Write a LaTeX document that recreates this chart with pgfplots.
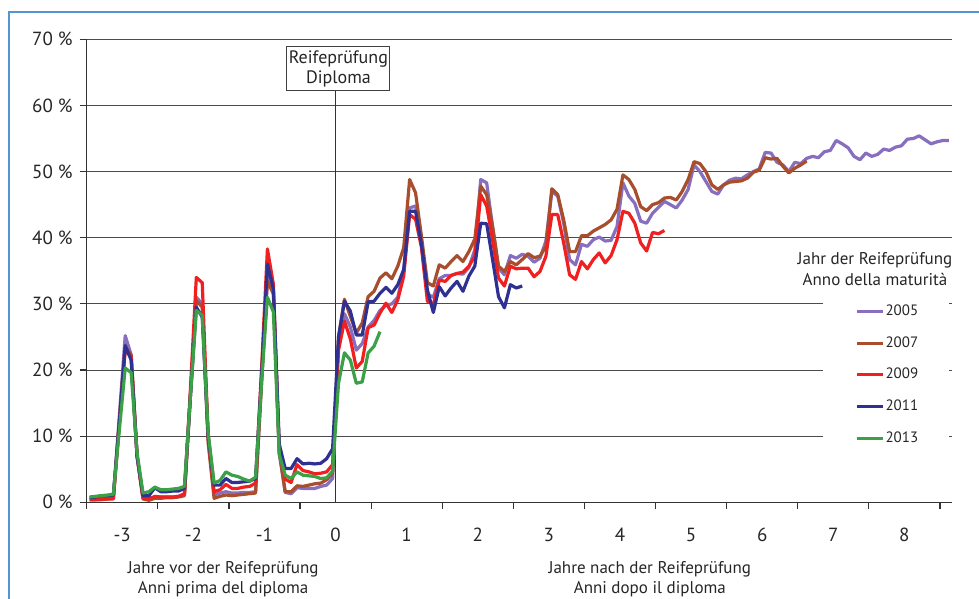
\documentclass[border=0pt]{standalone}
\usepackage{pgfplots}
\pgfplotsset{compat=1.18}
\usepackage{pgfplotstable}
\usepackage{fontspec}
\setmainfont{PT Sans}
\definecolor{cA}{RGB}{135,110,190}
\definecolor{cB}{RGB}{168,78,45}
\definecolor{cC}{RGB}{240,32,32}
\definecolor{cD}{RGB}{46,49,146}
\definecolor{cE}{RGB}{60,160,70}
\definecolor{frm}{RGB}{85,150,210}

% month index m (0 = month of the diploma), value in percent
\pgfplotstableread{
m v
-42 0.6
-41 0.6
-40 0.6
-39 0.7
-38 0.7
-37 13
-36 25.2
-35 22.3
-34 7.0
-33 0.8
-32 0.7
-31 0.7
-30 0.8
-29 0.8
-28 0.8
-27 0.9
-26 1.1
-25 16
-24 31
-23 30
-22 9.5
-21 1.1
-20 1.4
-19 1.6
-18 1.4
-17 1.4
-16 1.5
-15 1.5
-14 1.6
-13 18
-12 34
-11 32
-10 7.5
-9 1.5
-8 1.3
-7 2.2
-6 2.1
-5 2.1
-4 2.1
-3 2.4
-2 2.6
-1 3.6
0 24
1 28.5
2 26.5
3 23
4 24
5 26.5
6 27.5
7 29
8 29.8
9 30
10 31
11 35
12 44.5
13 44.8
14 39
15 31.5
16 31
17 33.8
18 34.3
19 34.3
20 34.6
21 34.5
22 35.5
23 38.2
24 48.8
25 48.3
26 41.7
27 35.4
28 34.4
29 37.3
30 36.9
31 37.5
32 37.2
33 36.3
34 36.9
35 39.5
36 47.0
37 46.3
38 42.2
39 36.7
40 35.9
41 39.0
42 38.7
43 39.7
44 40.1
45 39.5
46 39.6
47 41.7
48 48.3
49 46.3
50 45.2
51 42.5
52 42.2
53 43.7
54 44.6
55 45.5
56 45.0
57 44.5
58 45.7
59 47.3
60 51.0
61 50.0
62 48.5
63 47.0
64 46.6
65 48.0
66 48.7
67 49.0
68 48.9
69 49.5
70 50.0
71 50.4
72 52.9
73 52.8
74 51.4
75 51.0
76 50.0
77 51.4
78 51.2
79 52.0
80 52.3
81 52.1
82 53.0
83 53.2
84 54.7
85 54.2
86 53.6
87 52.3
88 51.8
89 52.8
90 52.3
91 52.6
92 53.4
93 53.2
94 53.7
95 53.9
96 54.9
97 55.0
98 55.4
99 54.8
100 54.2
101 54.5
102 54.7
103 54.7
}\tA

\pgfplotstableread{
m v
-42 0.4
-41 0.4
-40 0.4
-39 0.5
-38 0.5
-37 12
-36 23.5
-35 22.3
-34 7.0
-33 0.5
-32 0.3
-31 0.6
-30 0.6
-29 0.7
-28 0.7
-27 0.8
-26 1.0
-25 16
-24 30.5
-23 29.5
-22 9
-21 0.6
-20 0.9
-19 1.1
-18 1.0
-17 1.1
-16 1.2
-15 1.3
-14 1.4
-13 18
-12 33.5
-11 31.5
-10 7.5
-9 1.6
-8 1.6
-7 2.5
-6 2.4
-5 2.6
-4 2.8
-3 2.9
-2 3.4
-1 4.4
0 25
1 30.7
2 28.1
3 25.6
4 27.1
5 31.1
6 31.9
7 33.9
8 34.7
9 33.8
10 35.7
11 38.5
12 48.8
13 46.8
14 40.2
15 33.2
16 32.7
17 35.9
18 35.4
19 36.4
20 37.3
21 36.4
22 37.9
23 39.8
24 47.8
25 46.5
26 41.7
27 35.7
28 34.9
29 36.4
30 35.9
31 36.7
32 37.6
33 37.0
34 37.2
35 38.7
36 47.4
37 46.5
38 42.7
39 37.9
40 37.9
41 40.3
42 40.3
43 41.0
44 41.5
45 42.0
46 42.7
47 44.3
48 49.5
49 48.8
50 47.3
51 44.7
52 44.1
53 45.0
54 45.3
55 46.0
56 46.1
57 45.7
58 47.0
59 48.8
60 51.5
61 51.2
62 50.0
63 48.0
64 47.3
65 48.0
66 48.4
67 48.5
68 48.6
69 49.0
70 49.9
71 50.2
72 52.1
73 51.9
74 52.0
75 50.8
76 49.8
77 50.5
78 51.0
79 51.6
}\tB

\pgfplotstableread{
m v
-42 0.4
-41 0.4
-40 0.5
-39 0.5
-38 0.6
-37 12
-36 23
-35 22
-34 7.0
-33 0.6
-32 0.5
-31 0.9
-30 0.8
-29 0.8
-28 0.8
-27 0.9
-26 1.3
-25 17
-24 34.0
-23 33.2
-22 10
-21 1.6
-20 1.9
-19 2.7
-18 2.1
-17 2.1
-16 2.3
-15 2.4
-14 2.9
-13 20
-12 38.3
-11 33.0
-10 7.8
-9 3.5
-8 3.0
-7 5.7
-6 4.8
-5 4.6
-4 4.3
-3 4.4
-2 4.6
-1 5.7
0 23
1 27.4
2 24.7
3 20.3
4 21.3
5 26.4
6 26.8
7 28.6
8 30.1
9 28.7
10 30.6
11 34.2
12 43.5
13 42.8
14 38.5
15 30.4
16 29.9
17 33.6
18 33.4
19 34.3
20 34.6
21 34.8
22 35.7
23 37.2
24 46.5
25 44.8
26 39.7
27 33.9
28 32.7
29 35.7
30 35.3
31 35.4
32 35.4
33 34.1
34 34.9
35 37.2
36 43.5
37 43.5
38 39.2
39 34.4
40 33.7
41 36.4
42 35.3
43 36.7
44 37.7
45 36.2
46 37.3
47 39.7
48 44.0
49 43.7
50 42.2
51 39.2
52 38.0
53 40.8
54 40.6
55 41.1
}\tC

\pgfplotstableread{
m v
-42 0.7
-41 0.8
-40 1.0
-39 1.0
-38 1.1
-37 12
-36 23.7
-35 21.5
-34 7.0
-33 1.0
-32 1.0
-31 2.2
-30 1.6
-29 1.6
-28 1.7
-27 1.7
-26 2.1
-25 16
-24 29.5
-23 28.0
-22 10
-21 2.6
-20 2.6
-19 3.6
-18 3.0
-17 3.0
-16 3.1
-15 3.2
-14 3.6
-13 19
-12 36.0
-11 32.3
-10 8.8
-9 5.1
-8 5.1
-7 6.6
-6 5.8
-5 5.9
-4 5.8
-3 5.9
-2 6.6
-1 8.1
0 25
1 30.4
2 28.9
3 25.3
4 25.3
5 30.3
6 30.4
7 31.6
8 32.5
9 31.6
10 32.9
11 35.2
12 44.0
13 44.0
14 39.0
15 32.1
16 28.7
17 32.6
18 31.2
19 32.4
20 33.4
21 31.9
22 34.2
23 35.7
24 42.2
25 42.1
26 36.7
27 31.1
28 29.4
29 32.9
30 32.4
31 32.7
}\tD

\pgfplotstableread{
m v
-42 0.8
-41 0.9
-40 1.0
-39 1.1
-38 1.2
-37 10.8
-36 20.3
-35 19.6
-34 7.5
-33 1.4
-32 1.6
-31 2.3
-30 1.9
-29 1.9
-28 2.0
-27 2.1
-26 2.4
-25 16
-24 29.0
-23 28.3
-22 10.5
-21 2.9
-20 3.3
-19 4.6
-18 4.1
-17 3.9
-16 3.5
-15 3.2
-14 3.8
-13 18
-12 31.0
-11 28.8
-10 7.2
-9 4.1
-8 3.6
-7 4.6
-6 4.1
-5 4.0
-4 3.9
-3 3.6
-2 3.7
-1 4.7
0 18.0
1 22.6
2 21.5
3 18.0
4 18.2
5 22.6
6 23.6
7 25.8
}\tE

\begin{document}
\begin{tikzpicture}
\useasboundingbox (0,0) rectangle (489.5pt,299.5pt);
\draw[frm, line width=0.7pt] (4.5pt,-3pt) -- (4.5pt,293.5pt) -- (493pt,293.5pt);
\begin{axis}[
  at={(43.35pt,48.35pt)}, anchor=south west,
  scale only axis, width=432.55pt, height=231.5pt,
  xmin=-3.5, xmax=8.6667, ymin=0, ymax=70,
  axis x line*=bottom, axis y line*=left,
  axis line style={black!80, line width=0.6pt, -},
  ytick={0,10,...,70},
  yticklabel={\pgfmathprintnumber{\tick}~\%},
  xtick={-3,...,8},
  xticklabels={-3,-2,-1,0,1,2,3,4,5,6,7,8},
  minor xtick={-3.5,-2.5,...,8.5},
  major x tick style={draw=none},
  tick align=outside,
  major tick length=3.5pt, minor tick length=3.5pt,
  tick style={black!80, line width=0.6pt},
  ymajorgrids, grid style={black!70, line width=0.5pt},
  tick label style={font=\fontsize{9.5}{10}\selectfont, text=black!85},
  xticklabel style={yshift=-6pt},
  /pgf/number format/assume math mode=true,
  clip=false,
  legend style={at={(axis cs:7.22,30.7)}, anchor=north west, draw=none, fill=none,
    font=\fontsize{7.5}{9}\selectfont, text=black!85, row sep=8pt,
    nodes={inner sep=0.5pt}},
  legend cell align=left,
  legend image code/.code={\draw[#1] (0pt,0pt) -- (13pt,0pt);},
  every axis plot/.append style={line width=1.6pt, line join=round, mark=none},
]
\fill[white] (axis cs:6.856,4.5) rectangle (axis cs:8.63,38.5);
\draw[black!80, line width=0.5pt] (axis cs:0,0) -- (axis cs:0,63.2);
\addplot[cA] table[x expr=(\thisrow{m}+0.5)/12, y=v] {\tA};
\addlegendentry{2005}
\addplot[cB] table[x expr=(\thisrow{m}+0.5)/12, y=v] {\tB};
\addlegendentry{2007}
\addplot[cC] table[x expr=(\thisrow{m}+0.5)/12, y=v] {\tC};
\addlegendentry{2009}
\addplot[cD] table[x expr=(\thisrow{m}+0.5)/12, y=v] {\tD};
\addlegendentry{2011}
\addplot[cE] table[x expr=(\thisrow{m}+0.5)/12, y=v] {\tE};
\addlegendentry{2013}
\node[draw=black!75, line width=0.5pt, fill=white, align=center, minimum width=49.5pt, minimum height=22pt, inner sep=1pt, font=\fontsize{9}{10}\selectfont, text=black!85] at (axis cs:0.04,65.55) {Reifeprüfung\\Diploma};
\node[align=center, font=\fontsize{8.5}{10.5}\selectfont, text=black!85] at (axis cs:7.587,35.2) {Jahr der Reifeprüfung\\Anno della maturità};
\node[align=center, font=\fontsize{8.5}{10}\selectfont, text=black!85] at (axis cs:-1.58,-11.6) {Jahre vor der Reifeprüfung\\Anni prima del diploma};
\node[align=center, font=\fontsize{8.5}{10}\selectfont, text=black!85] at (axis cs:4.42,-11.6) {Jahre nach der Reifeprüfung\\Anni dopo il diploma};
\end{axis}
\end{tikzpicture}
\end{document}
